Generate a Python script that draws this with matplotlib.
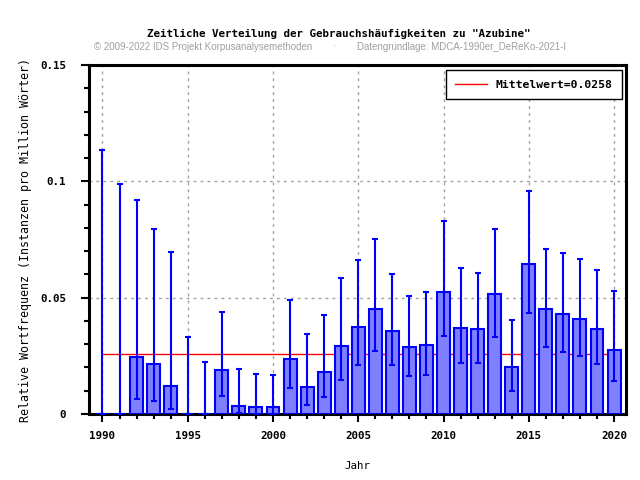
import numpy as np
import matplotlib.pyplot as plt
from matplotlib.ticker import MultipleLocator, FixedLocator

years = list(range(1990, 2021))
freq = [0.0, 0.0, 0.0246, 0.0216, 0.0122, 0.0, 0.0, 0.0188, 0.0036, 0.0031,
        0.0031, 0.0238, 0.0117, 0.0182, 0.0294, 0.0375, 0.0453, 0.0358, 0.0289, 0.0298,
        0.0526, 0.0371, 0.0367, 0.0517, 0.0203, 0.0646, 0.0453, 0.0431, 0.0410, 0.0367,
        0.0276]
err_low = [0.0, 0.0, 0.0066, 0.0057, 0.0023, 0.0, 0.0, 0.0077, 0.0003, 0.0002,
           0.0002, 0.0112, 0.0039, 0.0073, 0.0147, 0.0211, 0.0271, 0.0211, 0.0163, 0.0168,
           0.0335, 0.0219, 0.0219, 0.0331, 0.0099, 0.0434, 0.0288, 0.0266, 0.0249, 0.0215,
           0.0143]
err_high = [0.1134, 0.0990, 0.0920, 0.0795, 0.0697, 0.0331, 0.0225, 0.0438, 0.0193, 0.0172,
            0.0168, 0.0490, 0.0345, 0.0427, 0.0586, 0.0663, 0.0752, 0.0603, 0.0508, 0.0524,
            0.0829, 0.0629, 0.0607, 0.0795, 0.0404, 0.0958, 0.0709, 0.0692, 0.0667, 0.0620,
            0.0530]
mean_val = 0.0258

mono = 'DejaVu Sans Mono'
plt.rcParams['font.family'] = mono
plt.rcParams['font.weight'] = 'bold'
plt.rcParams['font.size'] = 7.8

fig = plt.figure(figsize=(6.4, 4.8), dpi=100)
ax = fig.add_axes([0.1383, 0.1375, 0.8406, 0.727])

yrs = np.array(years)
f = np.array(freq)
lo = f - np.array(err_low)
hi = np.array(err_high) - f

ax.plot([years[0], years[-1]], [mean_val, mean_val], color='red', lw=1,
        label='Mittelwert=0.0258', zorder=2)
ax.bar(yrs, f, width=0.76, color='#8080ff', edgecolor='#0000ff', linewidth=1.5, zorder=3)
ax.errorbar(yrs, f, yerr=[lo, hi], fmt='none', ecolor='#0000ff', elinewidth=1.5,
            capsize=2.5, capthick=1.5, zorder=4)

ax.set_xlim(1989.18, 2020.73)
ax.set_ylim(0, 0.15)
ax.xaxis.set_major_locator(FixedLocator([1990, 1995, 2000, 2005, 2010, 2015, 2020]))
ax.xaxis.set_minor_locator(MultipleLocator(1))
ax.yaxis.set_major_locator(FixedLocator([0, 0.05, 0.1, 0.15]))
ax.yaxis.set_minor_locator(MultipleLocator(0.01))
ax.set_yticklabels(['0', '0.05', '0.1', '0.15'])
ax.tick_params(which='major', length=6, width=1.5, direction='out')
ax.tick_params(which='minor', length=3.5, width=1.5, direction='out')
ax.tick_params(axis='x', which='major', pad=6.5)
ax.tick_params(axis='y', which='major', pad=10)
for s in ax.spines.values():
    s.set_linewidth(2.2)

ax.grid(True, which='major', color='#a0a0a0', linestyle=(0, (2, 3)), linewidth=1, zorder=0)
ax.set_axisbelow(True)

ax.set_xlabel('Jahr', labelpad=14)
ax.set_ylabel('Relative Wortfrequenz (Instanzen pro Million Wörter)', labelpad=6, fontsize=8.4)

leg = ax.legend(loc='upper right', fancybox=False, framealpha=1, edgecolor='black',
                borderpad=0.85, handlelength=2.8, handletextpad=0.7, borderaxespad=0.42,
                prop=dict(family=mono, weight='bold', size=8.2))
leg.get_frame().set_linewidth(1)

fig.text(0.53, 0.929, 'Zeitliche Verteilung der Gebrauchshäufigkeiten zu "Azubine"',
         ha='center', va='center')
sub = dict(family='Liberation Sans', weight='normal', size=7.0, color='#a0a0a0', va='center')
fig.text(0.147, 0.903, '© 2009-2022 IDS Projekt Korpusanalysemethoden', ha='left', **sub)
fig.text(0.522, 0.903, '·', ha='center', **sub)
fig.text(0.558, 0.903, 'Datengrundlage: MDCA-1990er_DeReKo-2021-I', ha='left', **sub)

fig.savefig('out.png', dpi=100)
